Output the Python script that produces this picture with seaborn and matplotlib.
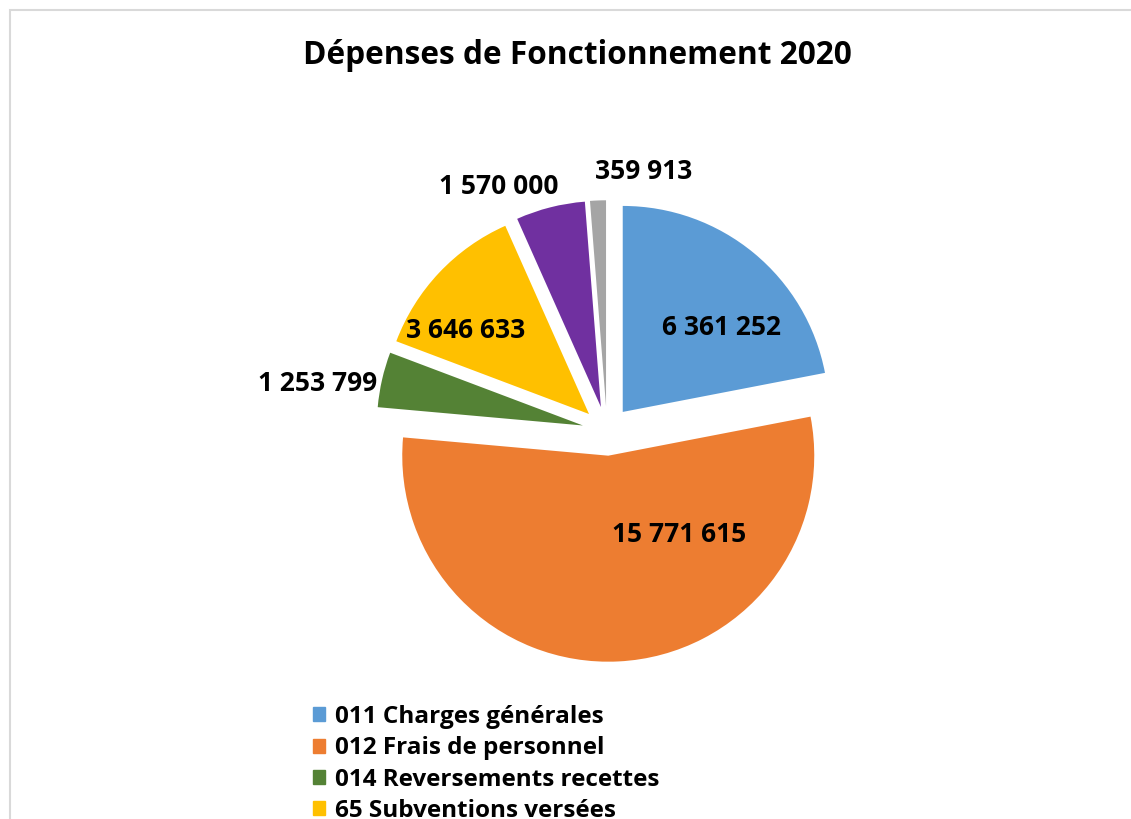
import matplotlib
matplotlib.use("Agg")
import matplotlib.pyplot as plt
from matplotlib.patches import Rectangle
import seaborn as sns

categories = ["011 Charges générales", "012 Frais de personnel", "014 Reversements recettes",
              "65 Subventions versées", "66 Charges financières", "67 Charges exceptionnelles"]
values = [6361252, 15771615, 1253799, 3646633, 1570000, 359913]
colors = ["#5B9BD5", "#ED7D31", "#548235", "#FFC000", "#7030A0", "#A5A5A5"]
# label anchor points, in pie radius units from the pie centre
label_xy = [(0.556, 0.502), (0.351, -0.502), (-1.405, 0.229),
            (-0.688, 0.488), (-0.527, 1.185), (0.180, 1.259)]

sns.set_theme(style="white")
plt.rcParams["font.family"] = ["Open Sans", "DejaVu Sans"]

W, H = 1131, 819
cx, cy, R = 607, 431, 206
fig = plt.figure(figsize=(W / 100, H / 100), dpi=100)
ax = fig.add_axes([0, 0, 1, 1])
ax.pie(values, colors=colors, startangle=90, counterclock=False,
       explode=[0.12] * len(values), radius=1, center=(0, 0),
       wedgeprops=dict(linewidth=0))
ax.set_xlim(-cx / R, (W - cx) / R)
ax.set_ylim(-(H - cy) / R, cy / R)
ax.set_aspect("auto")
ax.axis("off")

def fmt(v):
    return f"{v:,}".replace(",", " ")

for v, (x, y) in zip(values, label_xy):
    ax.text(x, y, fmt(v), ha="center", va="center", fontsize=19, fontweight="bold", color="black")

fig.text(577 / W, 1 - 56 / H, "Dépenses de Fonctionnement 2020", ha="center", va="center",
         fontsize=22.8, fontweight="bold", color="black")

handles = [Rectangle((0, 0), 1, 1, color=c) for c in colors]
leg = fig.legend(handles, categories, loc="upper left", bbox_to_anchor=(313 / W, 1 - 705 / H),
                 frameon=False, prop=dict(weight="bold", size=17.5),
                 handlelength=0.5, handleheight=0.5, handletextpad=0.4, labelspacing=0.3,
                 borderaxespad=0, borderpad=0)
for t in leg.get_texts():
    t.set_color("black")

fig.add_artist(Rectangle((10 / W, -0.1), 2, 1.1 - 10 / H, transform=fig.transFigure,
                         fill=False, edgecolor="#d9d9d9", linewidth=1.5))

fig.savefig("out.png", dpi=100)
